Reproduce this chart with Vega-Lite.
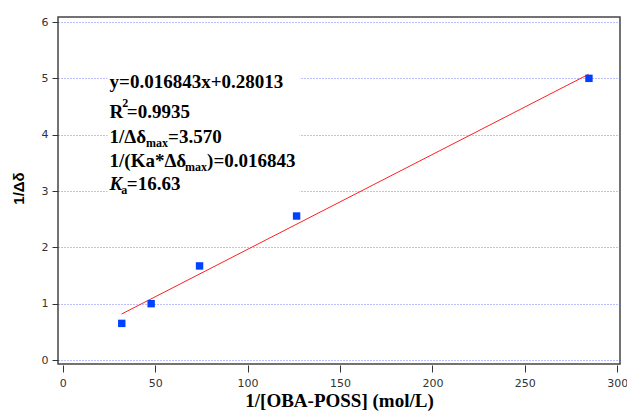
{
  "$schema": "https://vega.github.io/schema/vega-lite/v6.json",
  "width": 562,
  "height": 347,
  "autosize": "none",
  "padding": {"left": 58, "top": 17, "right": 7, "bottom": 47},
  "background": "white",
  "config": {
    "view": {"stroke": "#444", "strokeWidth": 1.5},
    "axis": {"labelFont": "DejaVu Sans", "labelFontSize": 11, "labelColor": "#333", "tickColor": "#333", "domain": false}
  },
  "datasets": {
    "points": [
      {"x": 31.9, "y": 0.65},
      {"x": 47.8, "y": 1.0},
      {"x": 74.0, "y": 1.67},
      {"x": 126.5, "y": 2.556},
      {"x": 284.7, "y": 5.0}
    ],
    "fit": [
      {"x": 31.8, "y": 0.8157},
      {"x": 284.5, "y": 5.072}
    ],
    "one": [{}]
  },
  "layer": [
    {
      "data": {"name": "one"},
      "mark": {"type": "rect", "fill": "white", "stroke": null},
      "encoding": {
        "x": {"datum": 24.2, "type": "quantitative", "scale": {"domain": [-2.6, 301.5], "nice": false, "zero": false},
              "axis": {"values": [0, 50, 100, 150, 200, 250, 300], "grid": false, "tickSize": 7, "offset": 1, "labelPadding": 5,
                       "title": "1/[OBA-POSS] (mol/L)", "titleFont": "Liberation Serif", "titleFontWeight": "bold", "titleFontSize": 19,
                       "titleColor": "black", "titleBaseline": "alphabetic", "titleY": 41}},
        "x2": {"datum": 128.1},
        "y": {"datum": 5.24, "type": "quantitative", "scale": {"domain": [-0.071, 6.089], "nice": false, "zero": false},
              "axis": {"values": [0, 1, 2, 3, 4, 5, 6], "format": "d", "grid": true, "gridColor": "#6060ff", "gridOpacity": 0.8, "gridDash": [1, 2],
                       "gridWidth": 1, "tickSize": 6, "labelPadding": 4,
                       "title": "1/Δδ", "titleFont": "Liberation Sans", "titleFontWeight": "bold", "titleFontSize": 15,
                       "titleColor": "black", "titleBaseline": "alphabetic", "titleX": -34.5, "titleY": 171}},
        "y2": {"datum": 2.84}
      }
    },
    {
      "data": {"name": "fit"},
      "mark": {"type": "line", "color": "#ff2020", "strokeWidth": 1},
      "encoding": {
        "x": {"field": "x", "type": "quantitative"},
        "y": {"field": "y", "type": "quantitative"}
      }
    },
    {
      "data": {"name": "points"},
      "mark": {"type": "point", "shape": "square", "filled": true, "size": 55, "color": "#0040ff", "opacity": 1},
      "encoding": {
        "x": {"field": "x", "type": "quantitative"},
        "y": {"field": "y", "type": "quantitative"}
      }
    },
    {
      "data": {"name": "one"},
      "layer": [
        {
          "mark": {"type": "text", "text": "y=0.016843x+0.28013", "font": "Liberation Serif", "fontWeight": "bold", "fontSize": 19, "align": "left", "baseline": "alphabetic", "color": "black"},
          "encoding": {"x": {"datum": 25.3}, "y": {"datum": 4.829}}
        },
        {
          "mark": {"type": "text", "text": "R", "font": "Liberation Serif", "fontWeight": "bold", "fontSize": 19, "align": "left", "baseline": "alphabetic", "color": "black"},
          "encoding": {"x": {"datum": 25.3}, "y": {"datum": 4.296}}
        },
        {
          "mark": {"type": "text", "text": "2", "font": "Liberation Serif", "fontWeight": "bold", "fontSize": 12, "align": "left", "baseline": "alphabetic", "dx": 12.7, "dy": -11, "color": "black"},
          "encoding": {"x": {"datum": 25.3}, "y": {"datum": 4.296}}
        },
        {
          "mark": {"type": "text", "text": "=0.9935", "font": "Liberation Serif", "fontWeight": "bold", "fontSize": 19, "align": "left", "baseline": "alphabetic", "dx": 17.3, "color": "black"},
          "encoding": {"x": {"datum": 25.3}, "y": {"datum": 4.296}}
        },
        {
          "mark": {"type": "text", "text": "1/Δδ", "font": "Liberation Serif", "fontWeight": "bold", "fontSize": 19, "align": "left", "baseline": "alphabetic", "color": "black"},
          "encoding": {"x": {"datum": 25.3}, "y": {"datum": 3.852}}
        },
        {
          "mark": {"type": "text", "text": "max", "font": "Liberation Serif", "fontWeight": "bold", "fontSize": 12, "align": "left", "baseline": "alphabetic", "dx": 36.5, "dy": 4, "color": "black"},
          "encoding": {"x": {"datum": 25.3}, "y": {"datum": 3.852}}
        },
        {
          "mark": {"type": "text", "text": "=3.570", "font": "Liberation Serif", "fontWeight": "bold", "fontSize": 19, "align": "left", "baseline": "alphabetic", "dx": 58.5, "color": "black"},
          "encoding": {"x": {"datum": 25.3}, "y": {"datum": 3.852}}
        },
        {
          "mark": {"type": "text", "text": "1/(Ka*Δδ", "font": "Liberation Serif", "fontWeight": "bold", "fontSize": 19, "align": "left", "baseline": "alphabetic", "color": "black"},
          "encoding": {"x": {"datum": 25.3}, "y": {"datum": 3.426}}
        },
        {
          "mark": {"type": "text", "text": "max", "font": "Liberation Serif", "fontWeight": "bold", "fontSize": 12, "align": "left", "baseline": "alphabetic", "dx": 75.5, "dy": 4, "color": "black"},
          "encoding": {"x": {"datum": 25.3}, "y": {"datum": 3.426}}
        },
        {
          "mark": {"type": "text", "text": ")=0.016843", "font": "Liberation Serif", "fontWeight": "bold", "fontSize": 19, "align": "left", "baseline": "alphabetic", "dx": 97.5, "color": "black"},
          "encoding": {"x": {"datum": 25.3}, "y": {"datum": 3.426}}
        },
        {
          "mark": {"type": "text", "text": "K", "font": "Liberation Serif", "fontWeight": "bold", "fontStyle": "italic", "fontSize": 19, "align": "left", "baseline": "alphabetic", "color": "black"},
          "encoding": {"x": {"datum": 25.3}, "y": {"datum": 3.018}}
        },
        {
          "mark": {"type": "text", "text": "a", "font": "Liberation Serif", "fontWeight": "bold", "fontSize": 12, "align": "left", "baseline": "alphabetic", "dx": 11.7, "dy": 4, "color": "black"},
          "encoding": {"x": {"datum": 25.3}, "y": {"datum": 3.018}}
        },
        {
          "mark": {"type": "text", "text": "=16.63", "font": "Liberation Serif", "fontWeight": "bold", "fontSize": 19, "align": "left", "baseline": "alphabetic", "dx": 17.3, "color": "black"},
          "encoding": {"x": {"datum": 25.3}, "y": {"datum": 3.018}}
        }
      ]
    }
  ]
}
